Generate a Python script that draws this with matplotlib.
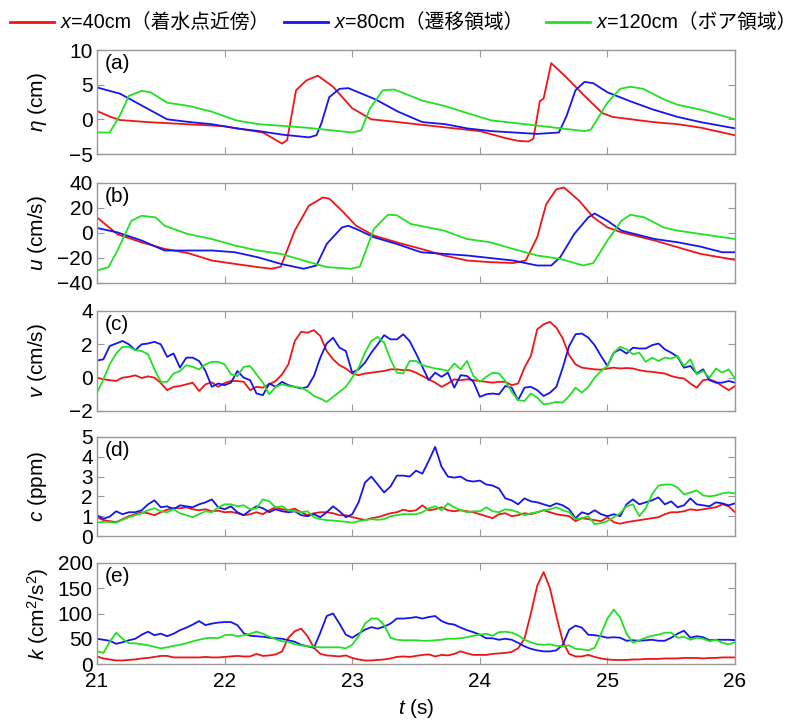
import numpy as np
import matplotlib
matplotlib.use('Agg')
import matplotlib.pyplot as plt
from matplotlib.lines import Line2D

plt.rcParams['font.family'] = ['Liberation Sans', 'Noto Sans CJK JP', 'DejaVu Sans']
plt.rcParams['mathtext.fontset'] = 'custom'
plt.rcParams['mathtext.rm'] = 'Liberation Sans'
plt.rcParams['mathtext.it'] = 'Liberation Sans:italic'
plt.rcParams['mathtext.bf'] = 'Liberation Sans:bold'

# ---------------- data ----------------
label_vars = ['x', 'x', 'x']
label_rest = ['=40cm（着水点近傍）', '=80cm（遷移領域）', '=120cm（ボア領域）']
colors = ['#f01515', '#1515f0', '#22e022']

# (a) surface elevation, knots (t, value)
eta_red_t = [21.0, 21.1, 21.18, 21.4, 21.7, 22.0, 22.3, 22.45, 22.49, 22.56, 22.64, 22.73, 22.85, 23.0, 23.15,
             23.36, 23.5, 23.8, 24.0, 24.2, 24.3, 24.38, 24.42, 24.47, 24.5, 24.56, 24.67, 24.82, 24.96, 25.04,
             25.36, 25.55, 25.73, 26.0]
eta_red = [1.2, 0.4, -0.1, -0.4, -0.7, -1.0, -1.9, -3.5, -3.0, 4.2, 5.6, 6.3, 4.7, 1.6, 0.0,
           -0.4, -0.7, -1.3, -1.7, -2.7, -3.1, -3.2, -2.8, 2.6, 3.0, 8.1, 6.2, 3.4, 0.9, 0.35,
           -0.4, -0.7, -1.2, -2.3]
eta_blue_t = [21.0, 21.18, 21.36, 21.55, 21.73, 21.9, 22.09, 22.27, 22.45, 22.66, 22.72, 22.76, 22.82, 22.9, 22.97,
              23.18, 23.36, 23.55, 23.73, 23.9, 24.09, 24.45, 24.62, 24.68, 24.75, 24.82, 24.89, 25.0, 25.18,
              25.36, 25.55, 25.73, 26.0]
eta_blue = [4.6, 3.7, 1.9, 0.0, -0.4, -0.7, -1.3, -1.7, -2.2, -2.6, -2.3, -0.5, 3.2, 4.4, 4.5,
            2.9, 1.1, -0.4, -0.7, -1.3, -1.7, -2.1, -1.9, 0.5, 4.2, 5.4, 5.2, 3.9, 2.6,
            1.4, 0.35, -0.4, -1.3]
eta_green_t = [21.0, 21.1, 21.18, 21.25, 21.35, 21.42, 21.55, 21.73, 21.9, 22.09, 22.27, 22.64, 23.0, 23.07, 23.14,
               23.24, 23.33, 23.55, 23.73, 23.9, 24.09, 24.45, 24.82, 24.87, 25.0, 25.1, 25.18, 25.28, 25.44,
               25.55, 25.73, 26.0]
eta_green = [-1.9, -1.9, 0.6, 3.4, 4.1, 3.9, 2.4, 1.9, 1.1, -0.15, -0.7, -1.2, -1.9, -1.6, 1.6,
             4.2, 4.3, 2.7, 1.9, 0.9, -0.15, -0.9, -1.7, -1.5, 2.4, 4.4, 4.7, 4.4, 2.9,
             2.1, 1.4, 0.0]

# (b) cross-shore velocity u, knots (t, value)
u_red_t = [21.0, 21.16, 21.35, 21.53, 21.71, 21.9, 22.08, 22.26, 22.37, 22.44, 22.55, 22.66, 22.77, 22.82, 22.92,
           23.03, 23.17, 23.35, 23.54, 23.72, 23.9, 24.08, 24.26, 24.36, 24.45, 24.52, 24.6, 24.66, 24.78, 24.89,
           25.0, 25.11, 25.37, 25.55, 25.73, 26.0]
u_red = [12.5, -1, -7.5, -12.7, -16, -22, -24.7, -27.3, -28.6, -27, 2, 21.8, 28.4, 27.5, 17.8,
         5.8, -2, -7.5, -12.7, -18, -22, -23.3, -24, -22, -3.4, 23, 35, 36.4, 25.7, 12.5,
         4.5, 0.5, -6, -11.4, -16.7, -21.5]
u_blue_t = [21.0, 21.16, 21.35, 21.53, 21.71, 21.9, 22.08, 22.26, 22.44, 22.62, 22.72, 22.8, 22.92, 22.97, 23.06,
            23.17, 23.35, 23.54, 23.72, 23.9, 24.08, 24.26, 24.45, 24.56, 24.63, 24.74, 24.85, 24.9, 25.0,
            25.11, 25.37, 25.55, 25.73, 25.9, 26.0]
u_blue = [4, 0.5, -6, -14, -14, -14, -15.4, -19.4, -24.7, -28.6, -26, -8.8, 4.5, 5.8, 1.9,
          -3.4, -8.8, -15.4, -16.7, -18, -20, -22, -26, -26, -19.4, -0.8, 12.5, 15.6, 9.8,
          1.9, -4.8, -7.4, -10.9, -15.4, -15.4]
u_green_t = [21.0, 21.09, 21.16, 21.27, 21.35, 21.46, 21.53, 21.71, 21.9, 22.08, 22.26, 22.44, 22.62, 22.8, 22.99,
             23.06, 23.17, 23.28, 23.35, 23.46, 23.72, 23.9, 24.08, 24.26, 24.45, 24.63, 24.81, 24.89, 25.0,
             25.11, 25.18, 25.29, 25.44, 25.55, 25.73, 26.0]
u_green = [-30, -27.3, -14, 9.8, 13.8, 12.5, 5.8, -0.8, -4.8, -10, -14, -16.7, -22, -27.3, -28.6,
           -27, 3.2, 14.6, 14.2, 7.2, 1.9, -4.8, -7.4, -12.7, -18, -20.7, -26, -24, -6,
           9.8, 14.6, 12.5, 4.5, 1.9, -0.8, -4.8]

# time grid for (c)-(e): 21.00 ... 26.00 every 0.05 s
t_grid = np.round(21.0 + 0.05 * np.arange(101), 2)

v_red = [0.0, -0.1, -0.15, -0.2, 0.0, 0.05, 0.14, -0.02, 0.08, 0.0,
         -0.32, -0.75, -0.55, -0.5, -0.4, -0.3, -0.8, -0.4, -0.28, -0.55,
         -0.32, -0.2, -0.2, -0.25, -0.75, -0.55, -0.6, -0.4, -0.2, 0.2,
         0.8, 2.2, 2.75, 2.7, 2.85, 2.5, 1.6, 1.1, 0.75, 0.55,
         0.25, 0.15, 0.25, 0.3, 0.35, 0.4, 0.5, 0.5, 0.45,
         0.45, 0.3, 0.1, -0.1, -0.3, -0.55, -0.35, -0.1, -0.15, -0.1,
         -0.15, -0.2, -0.25, -0.3, -0.25, -0.25, -0.45, -0.35, 0.6, 1.3,
         2.9, 3.2, 3.35, 3.0, 2.35, 1.35, 0.8, 0.6, 0.55, 0.5,
         0.48, 0.55, 0.6, 0.55, 0.58, 0.55, 0.45, 0.38, 0.35, 0.3,
         0.25, 0.1, 0.0, -0.05, -0.35, -0.6, -0.15, -0.1, -0.25, -0.5,
         -0.75, -0.5]
v_blue = [1.03, 1.1, 1.9, 2.05, 2.2, 2.0, 1.65, 2.0, 2.05, 2.15,
          2.0, 1.25, 1.45, 0.6, 1.2, 1.2, 1.0, 0.4, -0.55, -0.35,
          -0.45, -0.3, 0.4, 0.0, -0.15, -0.95, -1.05, -0.35, -0.55, -0.25,
          -0.45, -0.55, -0.65, -0.55, 0.1, 1.2, 2.05, 2.4, 1.8, 1.6,
          0.3, 0.5, 0.9, 1.5, 2.0, 2.55, 2.3, 2.3, 2.6,
          2.2, 1.45, 0.65, -0.15, 0.3, 0.05, 0.3, -0.6, 0.15, 0.1,
          -0.25, -1.15, -1.0, -0.95, -1.0, -0.5, -0.6, -1.35, -0.6, -0.55,
          -0.75, -1.1, -0.9, -0.55, 0.6, 1.9, 2.6, 2.65, 2.4, 1.95,
          1.3, 0.7, 1.5, 1.7, 1.45, 1.8, 1.75, 1.75, 1.95, 2.05,
          1.7, 1.5, 1.25, 0.6, 0.7, 0.25, 0.5, -0.15, -0.3, -0.3,
          -0.2, -0.3]
v_green = [-0.9, -0.1, 0.8, 1.45, 1.85, 1.85, 1.65, 1.6, 1.4, 0.5,
           -0.25, -0.25, 0.25, 0.4, 0.75, 0.65, 0.5, 0.8, 0.95, 0.95,
           0.8, 0.2, 0.1, 0.65, 0.7, 0.2, -0.3, -1.0, -0.55, -0.4,
           -0.5, -0.55, -0.6, -0.8, -1.1, -1.25, -1.45, -1.15, -0.85, -0.55,
           0.0, 0.6, 1.5, 2.2, 2.45, 2.1, 1.1, 0.3, 0.25,
           1.0, 1.0, 0.75, 0.65, 0.55, 0.5, 0.4, 0.85, 0.5, 1.0,
           0.1, -0.25, 0.05, 0.3, 0.25, -0.2, -0.85, -1.35, -1.4, -0.95,
           -1.2, -1.6, -1.55, -1.45, -1.5, -1.1, -0.6, -0.9, -0.55, 0.0,
           0.4, 0.7, 1.5, 1.85, 1.7, 1.4, 1.5, 0.95, 1.2, 1.0,
           1.2, 1.15, 1.3, 0.7, 1.1, 0.2, 0.4, 0.0, 0.55, 0.3,
           0.5, -0.05]

c_red = [0.95, 0.8, 0.75, 0.7, 0.85, 1.0, 1.1, 1.2, 1.15, 1.05,
         1.2, 1.33, 1.42, 1.4, 1.45, 1.35, 1.3, 1.35, 1.25, 1.28,
         1.2, 1.22, 1.15, 1.05, 1.1, 1.2, 1.1, 1.3, 1.45, 1.35,
         1.3, 1.38, 1.2, 1.05, 1.15, 1.2, 1.2, 1.15, 1.05, 1.05,
         0.95, 0.88, 0.8, 0.9, 0.95, 1.05, 1.15, 1.2, 1.33,
         1.25, 1.3, 1.55, 1.3, 1.35, 1.45, 1.3, 1.25, 1.3, 1.25,
         1.2, 1.1, 1.0, 0.9, 1.1, 1.15, 1.0, 1.05, 1.15, 1.1,
         1.2, 1.3, 1.2, 1.1, 1.05, 1.0, 0.75, 0.9, 0.85, 0.8,
         0.75, 0.95, 0.7, 0.62, 0.7, 0.75, 0.8, 0.85, 0.9, 0.95,
         1.1, 1.2, 1.2, 1.25, 1.35, 1.3, 1.35, 1.4, 1.45, 1.6,
         1.5, 1.2]
c_blue = [1.05, 0.87, 0.98, 1.25, 1.1, 1.2, 1.2, 1.3, 1.6, 1.8,
          1.45, 1.5, 1.35, 1.55, 1.5, 1.45, 1.6, 1.7, 1.85, 1.45,
          1.35, 1.5, 1.2, 1.05, 1.3, 1.5, 1.4, 1.2, 1.35, 1.25,
          1.2, 1.25, 1.05, 1.0, 1.1, 0.95, 1.2, 1.5, 1.25, 0.95,
          1.1, 1.7, 2.7, 3.0, 2.6, 2.2, 2.5, 3.05, 3.05,
          3.0, 3.3, 3.15, 3.8, 4.5, 3.5, 3.0, 2.95, 3.0, 2.8,
          2.75, 2.8, 2.6, 2.55, 2.4, 1.9, 1.8, 1.6, 1.9, 1.75,
          1.7, 1.6, 1.5, 1.65, 1.55, 1.35, 0.9, 1.2, 1.1, 1.3,
          1.1, 1.0, 1.1, 1.0, 1.6, 1.85, 1.6, 1.7, 1.8, 1.95,
          1.6, 1.75, 1.45, 1.55, 1.9, 1.6, 1.55, 1.5, 1.7, 1.65,
          1.55, 1.65]
c_green = [0.67, 0.72, 0.7, 0.67, 0.82, 0.95, 1.05, 1.15, 1.3, 1.4,
           1.25, 1.2, 1.35, 1.15, 1.05, 0.95, 1.1, 1.25, 1.2, 1.45,
           1.6, 1.6, 1.5, 1.55, 1.35, 1.4, 1.85, 1.75, 1.45, 1.5,
           1.3, 1.25, 1.2, 1.25, 0.95, 0.85, 0.8, 0.78, 0.75, 0.72,
           0.67, 0.75, 0.8, 0.85, 0.82, 0.85, 1.0, 1.05, 1.1,
           1.1, 1.1, 1.2, 1.4, 1.5, 1.3, 1.65, 1.45, 1.3, 1.2,
           1.25, 1.25, 1.45, 1.25, 1.2, 1.35, 1.3, 1.2, 1.05, 1.15,
           1.2, 1.3, 1.35, 1.45, 1.3, 1.2, 0.85, 0.9, 1.0, 0.6,
           0.65, 0.75, 0.95, 1.15, 1.5, 1.6, 1.0, 1.4, 2.1, 2.55,
           2.6, 2.6, 2.45, 2.1, 2.2, 2.3, 2.05, 2.0, 2.05, 2.15,
           2.2, 2.15]

k_red = [15, 11, 9, 7, 7, 8, 9, 11, 12, 14,
         16, 16, 13, 13, 13, 13, 13, 14, 13, 13,
         14, 15, 16, 15, 15, 20, 16, 17, 19, 25,
         52, 65, 70, 55, 32, 20, 17, 16, 15, 17,
         12, 9, 7, 7, 8, 9, 11, 14, 15, 14,
         16, 18, 19, 15, 18, 17, 20, 25, 21, 18,
         18, 18, 20, 21, 22, 24, 31, 50, 100, 155,
         182, 150, 95, 45, 20, 15, 15, 18, 14, 11,
         9, 8, 8, 8, 9, 9, 10, 10, 10, 11,
         11, 11, 12, 12, 12, 11, 12, 12, 13, 13,
         13]
k_blue = [50, 48, 46, 40, 43, 47, 50, 58, 64, 57,
          60, 55, 60, 67, 72, 78, 85, 77, 80, 82,
          83, 83, 77, 61, 56, 55, 54, 52, 51, 50,
          47, 44, 38, 35, 32, 62, 95, 100, 80, 58,
          52, 60, 68, 73, 70, 74, 80, 90, 90, 91,
          93, 90, 93, 95, 85, 80, 78, 72, 67, 63,
          58, 51, 51, 48, 50, 48, 42, 35, 30, 27,
          25, 25, 27, 38, 68, 76, 72, 58, 57, 55,
          52, 53, 52, 46, 47, 46, 47, 48, 46, 46,
          52, 60, 66, 52, 55, 53, 47, 48, 48, 48,
          47]
k_green = [25, 22, 44, 62, 50, 41, 41, 39, 37, 34,
           31, 33, 36, 38, 41, 45, 48, 51, 52, 51,
           57, 58, 55, 57, 60, 64, 60, 54, 49, 45,
           44, 39, 37, 35, 34, 33, 33, 33, 33, 31,
           38, 55, 80, 90, 90, 77, 52, 48, 47, 47,
           47, 46, 46, 47, 48, 50, 50, 51, 53, 56,
           58, 60, 56, 63, 64, 62, 57, 48, 43, 39,
           38, 39, 36, 35, 37, 30, 29, 27, 32, 60,
           90, 108, 92, 60, 42, 47, 52, 56, 58, 62,
           62, 52, 54, 48, 52, 50, 45, 48, 42, 39,
           43]

xticks = [21, 22, 23, 24, 25, 26]
panel_tags = ['(a)', '(b)', '(c)', '(d)', '(e)']
ylabels = [r'$\eta$ (cm)', r'$u$ (cm/s)', r'$v$ (cm/s)', r'$c$ (ppm)', r'$k$ (cm$^2$/s$^2$)']
ylims = [(-5, 10), (-40, 40), (-2, 4), (0, 5), (0, 200)]
yticks = [[-5, 0, 5, 10], [-40, -20, 0, 20, 40], [-2, 0, 2, 4], [0, 1, 2, 3, 4, 5], [0, 50, 100, 150, 200]]

# ---------------- figure ----------------
W, H = 804, 722
fig = plt.figure(figsize=(W / 100, H / 100), dpi=100)
boxes = [(50, 154), (183, 283), (311, 411), (437, 536), (563, 664)]
x0, x1 = 97, 735

series = [
    [(eta_red_t, eta_red), (eta_blue_t, eta_blue), (eta_green_t, eta_green)],
    [(u_red_t, u_red), (u_blue_t, u_blue), (u_green_t, u_green)],
    [(t_grid, v_red), (t_grid, v_blue), (t_grid, v_green)],
    [(t_grid, c_red), (t_grid, c_blue), (t_grid, c_green)],
    [(t_grid, k_red), (t_grid, k_blue), (t_grid, k_green)],
]

fs = 15
for i, (top, bot) in enumerate(boxes):
    ax = fig.add_axes([x0 / W, 1 - bot / H, (x1 - x0) / W, (bot - top) / H])
    for (tt, vv), col in zip(series[i], colors):
        ax.plot(tt, vv, color=col, lw=1.3)
    ax.set_xlim(21, 26)
    ax.set_ylim(*ylims[i])
    ax.set_xticks(xticks)
    ax.set_yticks(yticks[i])
    ax.tick_params(direction='in', top=True, right=True, length=5, width=0.8,
                   color='#999999', labelsize=fs, pad=3)
    ax.tick_params(axis='x', pad=6)
    if i < 4:
        ax.tick_params(labelbottom=False)
    for s in ax.spines.values():
        s.set_color('#999999')
        s.set_linewidth(1.0)
    ax.text(0.012, 0.96, panel_tags[i], transform=ax.transAxes, ha='left', va='top', fontsize=fs)
    fig.text(38 / W, 1 - (top + bot) / 2 / H, ylabels[i], rotation=90, ha='center', va='center', fontsize=fs)

fig.text((x0 + x1) / 2 / W, 1 - 708 / H, r'$t$ (s)', ha='center', va='center', fontsize=fs)

# legend row drawn by hand (italic variable + CJK description)
renderer = fig.canvas.get_renderer()
leg_y = 1 - 22 / H
line_starts = [10, 284, 546]
line_len = 44
lfs = 14.2
for xs, col, var, rest in zip(line_starts, colors, label_vars, label_rest):
    fig.add_artist(Line2D([xs / W, (xs + line_len) / W], [leg_y, leg_y], color=col, lw=2,
                          transform=fig.transFigure))
    tv = fig.text((xs + line_len + 7) / W, leg_y, var, style='italic', fontsize=lfs,
                  ha='left', va='center')
    bb = tv.get_window_extent(renderer)
    fig.text(bb.x1 / W + 0.5 / W, leg_y, rest, fontsize=lfs, ha='left', va='center',
             family=['Liberation Sans', 'Noto Sans CJK JP'])

fig.savefig('out.png', dpi=100)
